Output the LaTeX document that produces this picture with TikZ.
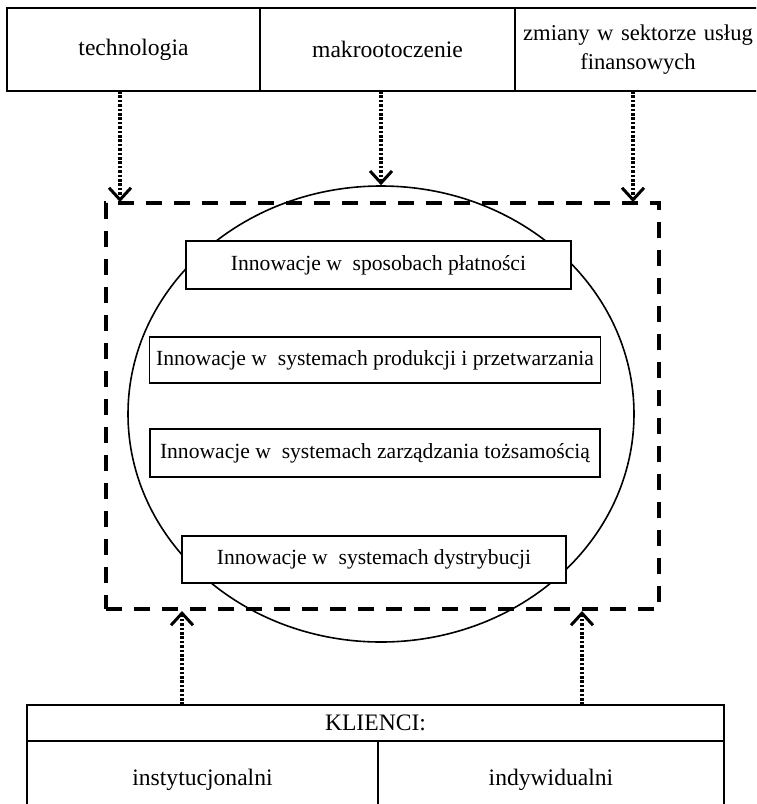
\documentclass[tikz,border=0pt]{standalone}
\usepackage{fontspec}
\setmainfont{Liberation Serif}
\usetikzlibrary{arrows.meta}
\usetikzlibrary{positioning}
\usetikzlibrary{shapes}
\usetikzlibrary{fit}

\begin{document}
\begin{tikzpicture}
        [x=0.5pt,y=-0.5pt,
        factor/.style={rectangle,draw=black,line width=0.9pt,outer sep=0pt,inner sep=1pt,minimum height=41.5pt,text centered,font=\fontsize{11.8}{14}\selectfont},
        innowacja/.style={rectangle,draw=black,line width=0.8pt,fill=white,minimum height=24pt,text centered,font=\fontsize{10.8}{13}\selectfont},
        klient/.style={rectangle,draw=black,line width=0.9pt,outer sep=0pt,text centered,font=\fontsize{11.8}{14}\selectfont},
        ramka/.style={draw=black,line width=2pt,dash pattern=on 8pt off 6pt,inner sep=0pt},
        on/.style={line width=1.8pt,dash pattern=on 1.3pt off 0.9pt,-{Straight Barb[length=6pt,width=11pt,line width=1.5pt]}},]

\clip (0,0) rectangle (756,804);

% Otoczenie %
\node[factor,minimum width=126.5pt] (tech) at (133.5,49.5) {technologia};
\node[factor,minimum width=127.5pt] (makro) [right=0pt of tech] {makrootoczenie};
\node[factor,minimum width=121pt,text width=121pt,align=center,font=\fontsize{11.3}{14.5}\selectfont] (zmiany) [right=0pt of makro] {zmiany w sektorze usług\\finansowych};

% Innowacje %
\node[ellipse,draw=black,line width=0.8pt,minimum width=253pt,minimum height=228pt,inner sep=0pt] (kolo) at (381,414) {};
\node[ramka,fit={(106,203) (659,609)}] (ramka) {};

\node[innowacja,minimum width=192.5pt] (inn1) at (378.5,265) {Innowacje w~ sposobach płatności};
\node[innowacja,minimum width=225pt,minimum height=23pt] (inn2) at (375,360) {Innowacje w~ systemach produkcji i przetwarzania};
\node[innowacja,minimum width=225pt] (inn3) at (375,453) {Innowacje w~ systemach zarządzania tożsamością};
\node[innowacja,minimum width=192pt,minimum height=23.5pt] (inn4) at (374,559.5) {Innowacje w~ systemach dystrybucji};

% Klienci %
\node[klient,minimum width=348.5pt,minimum height=18pt] (klienci) at (375.5,723) {KLIENCI:};
\node[klient,anchor=north west,minimum width=175.5pt,minimum height=38.5pt] (inst) at (klienci.south west) {instytucjonalni};
\node[klient,minimum width=173pt,minimum height=38.5pt] (indyw) [right=0pt of inst] {indywidualni};

% Pfeile %
\coordinate (wej1) at (120,202);
\coordinate (wej3) at (633,202);
\coordinate (wyj1) at (182,611);
\coordinate (wyj2) at (582,611);
\draw[on] (tech.south -| wej1) -- (wej1);
\draw[on] (makro.south -| kolo.north) -- (kolo.north);
\draw[on] (zmiany.south -| wej3) -- (wej3);
\foreach \a in {1,2}
        \draw[on] (klienci.north -| wyj\a) -- (wyj\a);
\end{tikzpicture}
\end{document}
